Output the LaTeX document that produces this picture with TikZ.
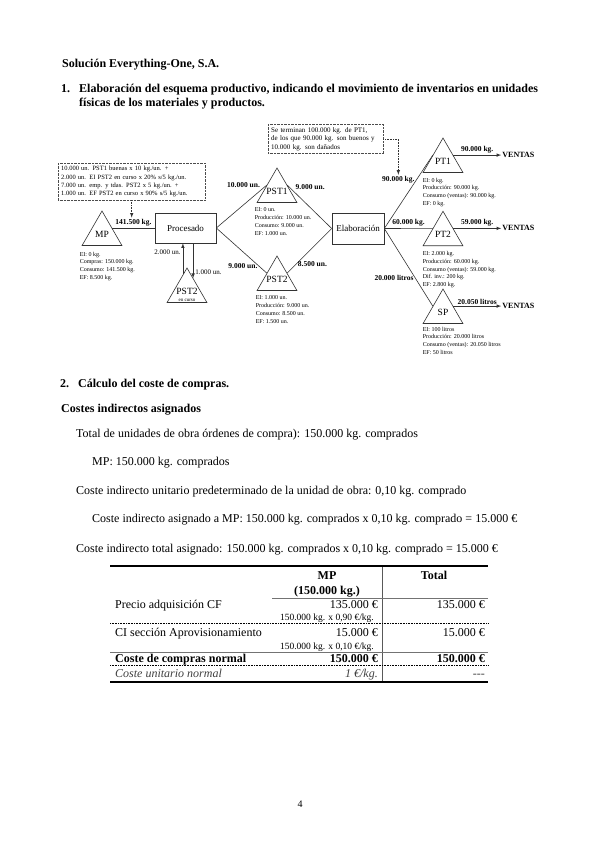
\documentclass[tikz,border=0pt]{standalone}
\usepackage{fontspec}
\setmainfont{Liberation Serif}
\usetikzlibrary{positioning,shapes.geometric,calc}
\newcommand{\tlab}[1]{\makebox[0pt]{#1}}
\begin{document}
\begin{tikzpicture}[>=latex, x=1pt, y=-1pt,
		every node/.style={inner sep=0pt},
		line/.style={draw=black!80, line width=0.6pt},
		procbox/.style={draw=black!80, line width=0.6pt, minimum width=61pt, minimum height=30pt, font=\fontsize{9}{10}\selectfont},
		tri/.style={draw=black!80, line width=0.6pt, regular polygon, regular polygon sides=3, minimum size=46pt, font=\fontsize{9.5}{10}\selectfont},
		qty/.style={font=\fontsize{7.5}{9}\bfseries\selectfont, inner sep=1.5pt},
		qtyn/.style={font=\fontsize{7}{8}\selectfont, inner sep=2pt},
		info/.style={font=\fontsize{6}{7.8}\selectfont, align=left},
		note/.style={draw=black!70, densely dotted, font=\fontsize{6.5}{8.3}\selectfont, align=left, inner sep=3pt},
		ventas/.style={font=\fontsize{8}{9}\bfseries\selectfont, inner sep=1pt},
		body/.style={font=\fontsize{12}{14}\selectfont, anchor=base west},
		head/.style={body, font=\fontsize{12}{14}\bfseries\selectfont},
		tb/.style={font=\fontsize{12}{14}\selectfont},
		ts/.style={font=\fontsize{9.5}{11}\selectfont}]

	\fill[white] (0,0) rectangle (599,848);
	\useasboundingbox (0,0) rectangle (599,848);

	% encabezado
	\node[head] (titulo) at (62,68) {Solución Everything-One, S.A.};
	\node[head] (n1) at (61,93) {1.};
	\node[head] (sec1) at (79,93) {Elaboración del esquema productivo, indicando el movimiento de inventarios en unidades};
	\node[head] (sec1b) at (79,107) {físicas de los materiales y productos.};

	% esquema productivo
	\node[tri] (mp) at (102,234) {\tlab{MP}};
	\node[procbox] (proc) at (185.5,228) {Procesado};
	\node[tri] (pst1) at (277,191) {\tlab{PST1}};
	\node[tri] (pst2) at (277,279) {\tlab{PST2}};
	\node[tri] (pst2c) at (187,291) {\tlab{PST2}};
	\node[font=\fontsize{5}{6}\selectfont, anchor=south, inner sep=1pt] (encurso) at (pst2c.side 2) {en curso};
	\node[procbox, minimum width=52pt, minimum height=31pt] (elab) at (358,228.5) {Elaboración};
	\node[tri] (pt1) at (443,161) {\tlab{PT1}};
	\node[tri] (pt2) at (443,234.25) {\tlab{PT2}};
	\node[tri] (sp) at (443,312) {\tlab{SP}};

	\node[ventas, right=48pt of pt1.side 3] (v1) {VENTAS};
	\node[ventas, right=48pt of pt2.side 3] (v2) {VENTAS};
	\node[ventas, right=48pt of sp.side 3] (v3) {VENTAS};

	\draw[line] (mp.side 3) -- node[qty, above] (kgmp) {141.500 kg.} (mp.side 3 -| proc.west);
	\draw[line] (proc.east) -- node[qty, pos=0.9, anchor=south east] (q10a) {10.000 un.} (pst1.side 1);
	\draw[line] (proc.east) -- node[qty, pos=0.85, anchor=east] (q9a) {9.000 un.} (pst2.side 1);
	\draw[line] (pst1.side 3) -- node[qty, pos=0.15, anchor=south west] (q9b) {9.000 un.} (elab.west);
	\draw[line] (pst2.side 3) -- node[qty, pos=0.2, anchor=west] (q85) {8.500 un.} (elab.west);

	\coordinate (upin) at ($(pst2c.corner 1)!0.2!(pst2c.corner 2)$);
	\coordinate (dnout) at ($(pst2c.corner 1)!0.3!(pst2c.corner 3)$);
	\draw[line,->] (upin) -- node[qtyn, pos=0.72, anchor=east] (q2) {2.000 un.} (upin |- proc.south);
	\draw[line,->] (dnout |- proc.south) -- node[qtyn, pos=0.82, anchor=west] (q1) {1.000 un.} (dnout);

	\draw[line] (elab.east) -- node[qty, pos=0.66, anchor=east] (q90a) {90.000 kg.} (pt1.side 1);
	\draw[line] (elab.east) -- node[qty, above] (q60) {60.000 kg.} (pt2.side 1);
	\draw[line] (elab.east) -- node[qty, pos=0.64, anchor=east] (q20a) {20.000 litros} (sp.side 1);

	\draw[line,->] (pt1.side 3) -- node[qty, above] (q90b) {90.000 kg.} (v1);
	\draw[line,->] (pt2.side 3) -- node[qty, above] (q59) {59.000 kg.} (v2);
	\draw[line,->] (sp.side 3) -- node[qty, above] (q20b) {20.050 litros} (v3);

	% inventarios
	\node[info, below right=6pt and -2pt of mp.corner 2] (mpinfo) {EI: 0 kg.\\Compras: 150.000 kg.\\Consumo: 141.500 kg.\\EF: 8.500 kg.};
	\node[info, below right=5pt and -2pt of pst1.corner 2] (pst1info) {EI: 0 un.\\Producción: 10.000 un.\\Consumo: 9.000 un.\\EF: 1.000 un.};
	\node[info, below right=5pt and -1pt of pst2.corner 2] (pst2info) {EI: 1.000 un.\\Producción: 9.000 un.\\Consumo: 8.500 un.\\EF: 1.500 un.};
	\node[info, below right=5pt and 0pt of pt1.corner 2] (pt1info) {EI: 0 kg.\\Producción: 90.000 kg.\\Consumo (ventas): 90.000 kg.\\EF: 0 kg.};
	\node[info, below right=5pt and 0pt of pt2.corner 2] (pt2info) {EI: 2.000 kg.\\Producción: 60.000 kg.\\Consumo (ventas): 59.000 kg.\\Dif. inv.: 200 kg.\\EF: 2.800 kg.};
	\node[info, below right=3pt and 0pt of sp.corner 2] (spinfo) {EI: 100 litros\\Producción: 20.000 litros\\Consumo (ventas): 20.050 litros\\EF: 50 litros};

	% notas
	\node[note, anchor=north west, text width=141pt] (nota1) at (58,163) {10.000 un. PST1 buenas x 10 kg./un. +\\2.000 un. EI PST2 en curso x 20\% s/5 kg./un.\\7.000 un. emp. y tdas. PST2 x 5 kg./un. +\\1.000 un. EF PST2 en curso x 90\% s/5 kg./un.};
	\node[note, anchor=north west, text width=109pt, font=\fontsize{7}{8.5}\selectfont] (nota2) at (268,124) {Se terminan 100.000 kg. de PT1,\\de los que 90.000 kg. son buenos y\\10.000 kg. son dañados};
	\draw[line, densely dotted, ->] (nota1.south) -- (nota1.south |- kgmp.north);
	\draw[line, densely dotted, ->] (nota2.east) -| (q90a.north);

	% apartado 2
	\node[head] (n2) at (60,387) {2.};
	\node[head] (sec2) at (78,387) {Cálculo del coste de compras.};
	\node[head] (sub2) at (61,412) {Costes indirectos asignados};
	\node[body] (t1) at (76,437) {Total de unidades de obra órdenes de compra): 150.000 kg. comprados};
	\node[body] (t2) at (92,465) {MP: 150.000 kg. comprados};
	\node[body] (t3) at (76,494) {Coste indirecto unitario predeterminado de la unidad de obra: 0,10 kg. comprado};
	\node[body] (t4) at (92,522) {Coste indirecto asignado a MP: 150.000 kg. comprados x 0,10 kg. comprado = 15.000 €};
	\node[body] (t5) at (76,552) {Coste indirecto total asignado: 150.000 kg. comprados x 0,10 kg. comprado = 15.000 €};

	% tabla
	\coordinate (tnw) at (110,566);
	\coordinate (tse) at (488,682);
	\coordinate (cmp) at (272,598);
	\coordinate (ctot) at (382,566);
	\draw[black!65, line width=0.8pt] (ctot) -- (ctot |- tse);
	\draw[black!55, line width=0.7pt] (cmp) -- (cmp -| tse);
	\draw[black!55, line width=0.7pt] (110,652) -- (488,652);
	\foreach \y in {623.5,665.5}
		\draw[densely dotted, line width=0.6pt] (110,\y) -- (488,\y);
	\draw[line width=2pt] (tnw) -- (tnw -| tse);
	\draw[line width=2.4pt] (tnw |- tse) -- (tse);

	\node[tb, anchor=base] (hmp) at (327,579) {\textbf{MP}};
	\node[tb, anchor=base] (hkg) at (327,594) {\textbf{(150.000 kg.)}};
	\node[tb, anchor=base] (htot) at (434,579) {\textbf{Total}};
	\node[tb, anchor=base west] (r1) at (115,608) {Precio adquisición CF};
	\node[tb, anchor=base east] (r1mp) at (378,608) {135.000 €};
	\node[tb, anchor=base east] (r1tot) at (485,608) {135.000 €};
	\node[ts, anchor=base east] (r1c) at (374,620.5) {150.000 kg. x 0,90 €/kg.};
	\node[tb, anchor=base west] (r2) at (115,636) {CI sección Aprovisionamiento};
	\node[tb, anchor=base east] (r2mp) at (378,636) {15.000 €};
	\node[tb, anchor=base east] (r2tot) at (485,636) {15.000 €};
	\node[ts, anchor=base east] (r2c) at (374,649) {150.000 kg. x 0,10 €/kg.};
	\node[tb, anchor=base west] (r3) at (115,662) {\textbf{Coste de compras normal}};
	\node[tb, anchor=base east] (r3mp) at (378,662) {\textbf{150.000 €}};
	\node[tb, anchor=base east] (r3tot) at (485,662) {\textbf{150.000 €}};
	\node[tb, anchor=base west, text=black!75] (r4) at (115,677) {\textit{Coste unitario normal}};
	\node[tb, anchor=base east, text=black!75] (r4mp) at (378,677) {\textit{1 €/kg.}};
	\node[tb, anchor=base east, text=black!75] (r4tot) at (485,677) {-{}-{}-};

	\node[font=\fontsize{10}{12}\selectfont, anchor=base] (pag) at (300,807) {4};
\end{tikzpicture}
\end{document}
